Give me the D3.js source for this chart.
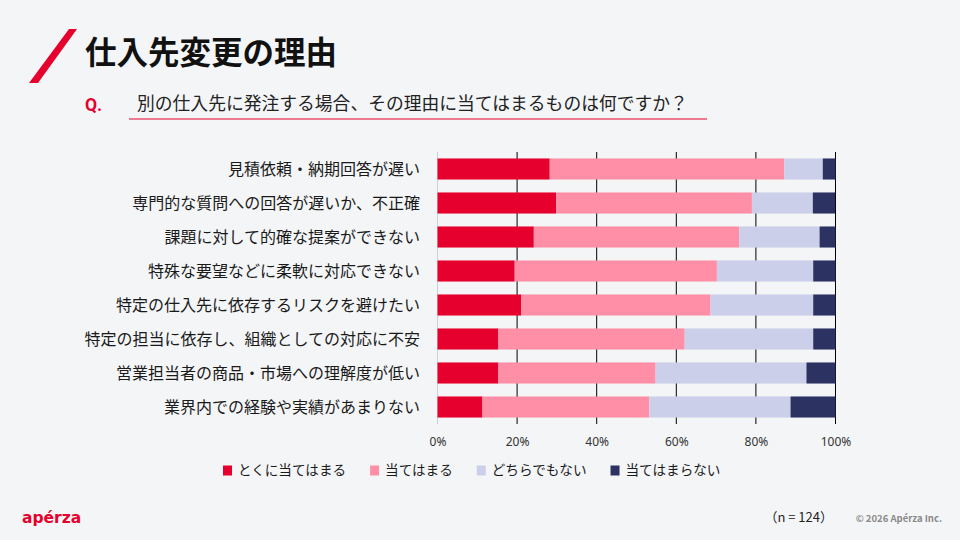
<!DOCTYPE html>
<html>
<head>
<meta charset="utf-8">
<script src="https://cdn.jsdelivr.net/npm/d3@7"></script>
<style>
  html, body { margin: 0; padding: 0; background: #f4f5f7; }
  svg { display: block; font-family: "Noto Sans CJK JP", "Noto Sans", sans-serif; }
</style>
</head>
<body>
<svg id="chart" width="960" height="540"></svg>
<script>
// data (percent of n = 124)
const categories = [
    "見積依頼・納期回答が遅い",
    "専門的な質問への回答が遅いか、不正確",
    "課題に対して的確な提案ができない",
    "特殊な要望などに柔軟に対応できない",
    "特定の仕入先に依存するリスクを避けたい",
    "特定の担当に依存し、組織としての対応に不安",
    "営業担当者の商品・市場への理解度が低い",
    "業界内での経験や実績があまりない",
];
const seriesNames = ["とくに当てはまる", "当てはまる", "どちらでもない", "当てはまらない"];
const strongly = [28.2, 29.8, 24.2, 19.4, 21.0, 15.3, 15.3, 11.3];
const somewhat = [58.9, 49.2, 51.6, 50.8, 47.6, 46.8, 39.5, 41.9];
const neutral = [9.7, 15.3, 20.2, 24.2, 25.8, 32.3, 37.9, 35.5];
const notAtAll = [3.2, 5.6, 4.0, 5.6, 5.6, 5.6, 7.3, 11.3];
const tickValues = [0, 20, 40, 60, 80, 100];
const sampleNote = "（n = 124）";

const COLOR = {
    RED: "#e6002d",
    PINK: "#ff8fa6",
    LAVENDER: "#cbcfea",
    NAVY: "#2c3262",
    TEXT: "#1a1a1a",
};
const seriesColors = [COLOR.RED, COLOR.PINK, COLOR.LAVENDER, COLOR.NAVY];

const svg = d3.select("#chart");

// header: slanted accent bar, title, question
svg.append("path")
    .attr("d", d3.line()([[29, 83], [38, 83], [77, 29], [69, 29]]) + "Z")
    .attr("fill", COLOR.RED);
svg.append("text")
    .attr("x", 85).attr("y", 64)
    .attr("font-size", 31.5)
    .attr("font-weight", 700)
    .attr("fill", "#111")
    .text("仕入先変更の理由");
svg.append("text")
    .attr("x", 85).attr("y", 110.5)
    .attr("font-family", "Roboto, sans-serif")
    .attr("font-size", 17.5)
    .attr("font-weight", 700)
    .attr("fill", COLOR.RED)
    .text("Q.");
svg.append("text")
    .attr("x", 137).attr("y", 110)
    .attr("font-size", 17.8)
    .attr("fill", "#222")
    .text("別の仕入先に発注する場合、その理由に当てはまるものは何ですか？");
svg.append("line")
    .attr("x1", 129).attr("x2", 707)
    .attr("y1", 119).attr("y2", 119)
    .attr("stroke", COLOR.RED)
    .attr("stroke-width", 1.2);

// scales
const x = d3.scaleLinear().domain([0, 100]).range([437.5, 835.5]);
const y = d3.scaleBand()
    .domain(categories)
    .range([152, 424])
    .paddingInner(0.38)
    .paddingOuter(0.19);

// grid
svg.append("g")
    .attr("id", "grid")
    .selectAll("line")
    .data(tickValues)
    .enter()
    .append("line")
    .attr("x1", (d) => x(d))
    .attr("x2", (d) => x(d))
    .attr("y1", 152)
    .attr("y2", 424)
    .attr("stroke", (d) => (d === 0 ? "#d0d0d0" : "#000"))
    .attr("stroke-width", 1);

// stacked bars
const stackData = categories.map((c, i) => {
    const vals = [strongly[i], somewhat[i], neutral[i], notAtAll[i]];
    const o = { category: c };
    seriesNames.forEach((s, j) => (o[s] = vals[j]));
    return o;
});
const stacked = d3.stack().keys(seriesNames)(stackData);

svg.append("g")
    .attr("id", "bars")
    .selectAll("g")
    .data(stacked)
    .enter()
    .append("g")
    .attr("fill", (d, i) => seriesColors[i])
    .selectAll("rect")
    .data((d) => d)
    .enter()
    .append("rect")
    .attr("x", (d) => x(d[0]))
    .attr("y", (d) => y(d.data.category))
    .attr("width", (d) => x(Math.min(d[1], 100)) - x(d[0]))
    .attr("height", y.bandwidth());

// category labels
svg.append("g")
    .attr("id", "labels")
    .selectAll("text")
    .data(categories)
    .enter()
    .append("text")
    .attr("x", 420)
    .attr("y", (d) => y(d) + y.bandwidth() / 2)
    .attr("dy", "0.35em")
    .attr("text-anchor", "end")
    .attr("font-size", 16)
    .attr("fill", COLOR.TEXT)
    .text((d) => d);

// x axis labels
const xAxis = d3.axisBottom(x)
    .tickValues(tickValues)
    .tickFormat((d) => d + "%")
    .tickSize(0)
    .tickPadding(0);
const axisG = svg.append("g")
    .attr("transform", "translate(0,437)")
    .call(xAxis);
axisG.select(".domain").remove();
axisG.selectAll("text")
    .attr("font-family", "'Noto Sans', sans-serif")
    .attr("font-size", 12)
    .attr("fill", "#333");

// legend
const legend = svg.append("g").attr("id", "legend");
let lx = 223;
seriesNames.forEach((name, i) => {
    legend.append("rect")
        .attr("x", lx).attr("y", 465.5)
        .attr("width", 9).attr("height", 10)
        .attr("fill", seriesColors[i]);
    const t = legend.append("text")
        .attr("x", lx + 15).attr("y", 470.5)
        .attr("dy", "0.35em")
        .attr("font-size", 13.6)
        .attr("fill", COLOR.TEXT)
        .text(name);
    lx += 15 + t.node().getComputedTextLength() + 24;
});

// footer
svg.append("text")
    .attr("x", 22).attr("y", 523)
    .attr("font-family", "'DejaVu Sans', sans-serif")
    .attr("font-size", 15.5)
    .attr("font-weight", 700)
    .attr("fill", COLOR.RED)
    .text("apérza");
svg.append("text")
    .attr("x", 833).attr("y", 522)
    .attr("text-anchor", "end")
    .attr("font-size", 13)
    .attr("fill", "#222")
    .text(sampleNote);
svg.append("text")
    .attr("x", 942).attr("y", 522)
    .attr("text-anchor", "end")
    .attr("font-size", 9.5)
    .attr("font-weight", 700)
    .attr("fill", "#8a8a8a")
    .text("© 2026 Apérza Inc.");
</script>
</body>
</html>
